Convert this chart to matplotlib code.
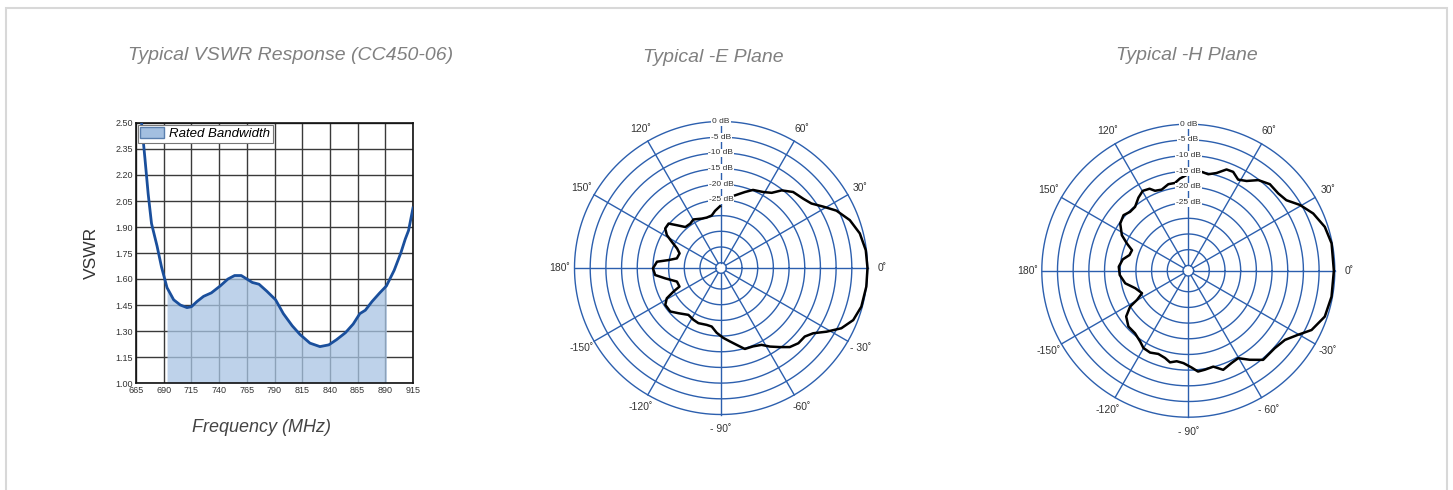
import numpy as np
import matplotlib
matplotlib.use('Agg')
import matplotlib.pyplot as plt
from matplotlib.patches import Rectangle, Patch

# VSWR curve (CC450-06)
freq = [670, 673, 676, 679, 684, 688, 693, 699, 705, 711, 715, 720, 726, 733,
        741, 748, 754, 760, 765, 770, 776, 783, 791, 798, 806, 813, 822, 831,
        839, 846, 854, 861, 867, 872, 878, 885, 891, 898, 904, 908, 911, 915]
vswr = [2.50, 2.30, 2.09, 1.92, 1.79, 1.67, 1.55, 1.48, 1.45, 1.435, 1.44,
        1.47, 1.50, 1.52, 1.56, 1.60, 1.62, 1.62, 1.60, 1.58, 1.57, 1.53,
        1.48, 1.40, 1.33, 1.28, 1.23, 1.21, 1.22, 1.25, 1.29, 1.34, 1.40,
        1.42, 1.47, 1.52, 1.56, 1.65, 1.75, 1.83, 1.88, 2.01]
band = (693, 891)
xticks = [665, 690, 715, 740, 765, 790, 815, 840, 865, 890, 915]
yticks = [1.00, 1.15, 1.30, 1.45, 1.60, 1.75, 1.90, 2.05, 2.20, 2.35, 2.50]

# E plane pattern (deg, dB), traced clockwise from the top gap
e_ang = [79, 72.5, 67.7, 61, 56, 52, 46.5, 40, 35.5, 31, 26.4, 20.4, 14, 7, 0,
         -7.3, -15.4, -21.5, -26.6, -31.1, -35.3, -39.3, -44.2, -49, -53.4,
         -58.1, -62.2, -67.7, -73.6, -78.5, -83, -88.1, -93.8, -99, -104.1,
         -112.3, -118, -124.8, -133.3, -139.4, -146.5, -150.8, -153.6, -155.9,
         -162.9, -169.5, -173.9, -179.7, -185.6, -188.6, -192.3, -199.4,
         -203.9, -208.1, -211.3, -215.3, -220.3, -224.1, -229, -235.2, -240.4,
         -248.7, -254.2, -260, -264, -269.1]
e_db = [-23.1, -21.3, -19.8, -19.0, -17.8, -15.3, -13.3, -12.4, -11.3, -8.7,
        -5.6, -2.9, -1.1, -0.2, 0.0, 0.0, -0.3, -1.4, -3.8, -7.4, -10.7, -12.2,
        -12.3, -13.3, -15.3, -17.2, -19.0, -19.7, -19.8, -21.7, -23.1, -24.4,
        -26.0, -27.8, -28.0, -27.7, -28.0, -28.5, -26.9, -25.4, -25.4, -26.9,
        -29.8, -32.2, -32.0, -28.6, -25.6, -25.0, -26.2, -29.8, -32.3, -32.7,
        -31.4, -28.9, -26.5, -24.9, -24.8, -27.1, -29.4, -29.5, -28.9, -29.8,
        -30.0, -29.7, -28.4, -27.0]

# H plane pattern (deg, dB)
h_ang = [82.3, 78.3, 73.9, 69.3, 65.6, 61.3, 57, 52.3, 46.7, 40.7, 35.7, 30.5,
         24.6, 17.8, 10.8, 0, -10.3, -18.6, -25.7, -30.3, -35.6, -41.9, -50,
         -55.4, -60.3, -64.9, -70.6, -75.4, -80.5, -84.5, -88, -93, -97.3,
         -101.3, -104.9, -109.8, -115, -120.1, -124.2, -130.4, -137, -143.6,
         -148.3, -150.4, -154.1, -161.7, -168.7, -176.4, -183.3, -189.8,
         -194.9, -200, -203.9, -208.1, -214.7, -220.6, -225.3, -230.2, -235.7,
         -240.3, -244.7, -247.4, -251.8, -257, -261.4, -264.8, -268.6]
h_db = [-14.9, -15.3, -14.3, -12.2, -12.1, -13.6, -12.6, -10.2, -8.8, -8.9,
        -8.2, -5.4, -2.9, -1.0, -0.2, -0.3, -0.3, -0.8, -3.1, -6.2, -8.8, -9.7,
        -9.6, -12.2, -14.6, -14.2, -13.2, -15.1, -14.7, -14.4, -15.8, -17.2,
        -17.6, -16.9, -17.9, -18.5, -17.9, -18.2, -19.4, -20.5, -20.6, -22.1,
        -24.9, -27.9, -30.3, -28.9, -26.2, -24.8, -24.5, -25.5, -27.3, -27.6,
        -25.3, -22.7, -20.3, -19.5, -20.3, -20.2, -18.5, -17.4, -17.8, -19.1,
        -19.5, -18.4, -18.4, -17.2, -16.3]

ring_db = [0, -5, -10, -15, -20, -25, -30, -35, -40, -45]
ring_labels = ['0 dB', '-5 dB', '-10 dB', '-15 dB', '-20 dB', '-25 dB']
spoke_deg = [0, 30, 60, 90, 120, 150, 180, 210, 240, 270, 300, 330]

W, H = 1453, 490
fig = plt.figure(figsize=(W/100, H/100), dpi=100)
plt.rcParams['font.family'] = ['Liberation Sans', 'DejaVu Sans']

# light frame round the panel
fig.add_artist(Rectangle((6/W, -0.05), (1447-6)/W, 1.05 - 8/H, transform=fig.transFigure,
                         fill=False, ec='#d8d8d8', lw=1.5))

title_c = '#808080'
fig.text(291/W, 1-55/H, 'Typical VSWR Response (CC450-06)', ha='center', va='center',
         fontsize=14, style='italic', color=title_c)
fig.text(713/W, 1-57/H, 'Typical -E Plane', ha='center', va='center',
         fontsize=14, style='italic', color=title_c)
fig.text(1187/W, 1-55/H, 'Typical -H Plane', ha='center', va='center',
         fontsize=14, style='italic', color=title_c)

# ---- VSWR panel
ax = fig.add_axes([136/W, 1-383/H, 277/W, 260/H])
line_c = '#1a4f9c'
fill_c = '#a9c4e4'
f = np.array(freq)
v = np.array(vswr)
m = (f >= band[0]) & (f <= band[1])
ax.set_xticks(xticks)
ax.set_yticks(yticks)
ax.set_xlim(665, 915)
ax.set_ylim(1.0, 2.5)
ax.grid(True, color='#3a3a3a', lw=1.0)
ax.set_axisbelow(True)
ax.fill_between(f[m], 1.0, v[m], color=fill_c, alpha=0.75, lw=0, zorder=2)
ax.plot(f, v, color=line_c, lw=2, zorder=3)
ax.set_yticklabels(['%.2f' % t for t in yticks])
ax.tick_params(length=0, labelsize=6.5, labelcolor='#333333', pad=2)
for s in ax.spines.values():
    s.set_color('#111111')
    s.set_linewidth(1.2)
leg = ax.legend(handles=[Patch(fc='#a3bfe0', ec='#5a7fae', label='Rated Bandwidth')],
                loc='upper left', fancybox=False, framealpha=1, edgecolor='#777777',
                prop={'style': 'italic', 'size': 9.5}, borderpad=0.2,
                handlelength=1.8, handleheight=0.85, handletextpad=0.4,
                borderaxespad=0.12)
leg.get_frame().set_linewidth(0.8)
ax.set_ylabel('VSWR', fontsize=12.5, color='#333333', labelpad=12)
fig.text(262/W, 1-427/H, 'Frequency (MHz)', ha='center', va='center',
         fontsize=13, style='italic', color='#444444')

# ---- polar panels
grid_c = '#2c5fae'
R = 146.5
rmin = -46.7


def polar_panel(cx, cy, ang, db, deg_labels):
    pax = fig.add_axes([(cx-R)/W, 1-(cy+R)/H, 2*R/W, 2*R/H], projection='polar')
    pax.set_ylim(rmin, 0)
    pax.set_xticks([])
    pax.set_yticks([])
    pax.grid(False)
    pax.spines['polar'].set_visible(False)
    th = np.linspace(0, 2*np.pi, 361)
    for r in ring_db:
        pax.plot(th, np.full_like(th, r), color=grid_c, lw=1.0, zorder=1, clip_on=False)
    for d in spoke_deg:
        pax.plot([np.radians(d)]*2, [ring_db[-1], 0], color=grid_c, lw=1.0, zorder=1,
                 clip_on=False)
    for r, lab in zip(ring_db, ring_labels):
        pax.text(np.pi/2, r, lab, ha='center', va='center', fontsize=6,
                 color='#333333', zorder=4,
                 bbox=dict(fc='white', ec='none', pad=0.6))
    for d, lab in zip(spoke_deg, deg_labels):
        pax.text(np.radians(d), 4.6, lab, ha='center', va='center', fontsize=7.5,
                 color='#333333', clip_on=False)
    pax.plot(np.radians(ang), db, color='black', lw=1.8, zorder=3, clip_on=False)
    return pax


e_labels = ['0˚', '30˚', '60˚', '', '120˚', '150˚', '180˚', '-150˚', '-120˚',
            '- 90˚', '-60˚', '- 30˚']
h_labels = ['0˚', '30˚', '60˚', '', '120˚', '150˚', '180˚', '-150˚', '-120˚',
            '- 90˚', '- 60˚', '-30˚']
polar_panel(721, 268, e_ang, e_db, e_labels)
polar_panel(1188.3, 270.7, h_ang, h_db, h_labels)

fig.savefig('out.png', dpi=100)
